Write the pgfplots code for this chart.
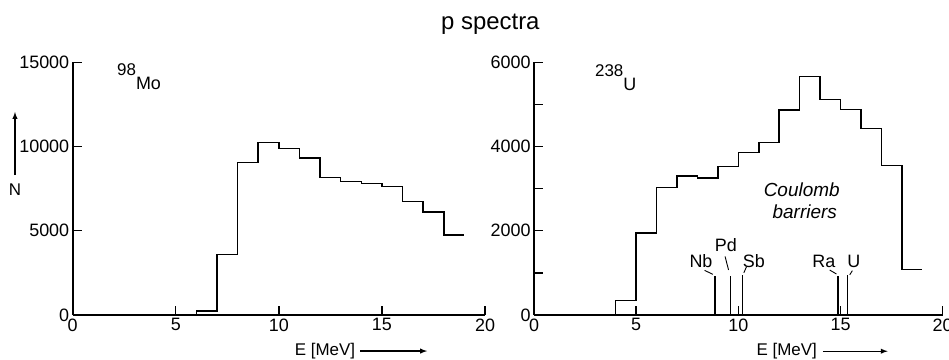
\documentclass[border=0pt]{standalone}
\usepackage{pgfplots}
\pgfplotsset{compat=1.18}
\usepackage{fontspec}
\setmainfont{Liberation Sans}
\begin{document}
\begin{tikzpicture}
\path[use as bounding box] (0,0) rectangle (949bp,360bp);
\pgfplotsset{
 myax/.style={
  scale only axis, width=412.3bp, height=252.7bp,
  axis x line*=bottom, axis y line*=left,
  axis line style={line width=1.6bp,-},
  tick align=inside, major tick length=9bp, minor tick length=9bp,
  every tick/.style={line width=1.4bp, black},
  xmin=0, xmax=20,
  xtick={0,5,10,15,20},
  tick label style={font=\fontsize{18}{20}\selectfont},
  /pgf/number format/assume math mode=true,
  /pgf/number format/1000 sep={},
  scaled y ticks=false,
  clip=false,
 }
}
% left panel
\begin{axis}[myax, at={(72.7bp,45bp)}, anchor=south west,
  ymin=0, ymax=15000, ytick={0,5000,10000,15000}]
\addplot[const plot, line width=1.5bp, black] coordinates {
 (6,0) (6,240) (7,3600) (8,9060) (9,10230) (10,9875) (11,9320) (12,8150)
 (13,7915) (14,7800) (15,7640) (16,6730) (17,6115) (18,4750) (19,4750)};
\node[anchor=base west, inner sep=0pt, font=\fontsize{18}{20}\selectfont]
  at (axis cs:2.15,13356) {\raisebox{14bp}{\fontsize{17}{18}\selectfont 98}Mo};
\node[font=\fontsize{24}{28}\selectfont, anchor=base] at (axis cs:20.26,16930) {p spectra};
\draw[line width=1.4bp, -latex] (axis cs:-2.8,8310) -- (axis cs:-2.8,12050);
\node[font=\fontsize{17}{20}\selectfont] at (axis cs:-2.8,7420) {N};
\node[font=\fontsize{17}{20}\selectfont] at (axis cs:12.24,-2140) {E [MeV]};
\draw[line width=1.4bp, -latex] (axis cs:13.94,-2140) -- (axis cs:17.19,-2140);
\end{axis}
% right panel
\begin{axis}[myax, at={(534bp,45bp)}, anchor=south west, width=408.7bp,
  ymin=0, ymax=6000, ytick={0,2000,4000,6000}, minor ytick={1000,3000,5000}]
\addplot[const plot, line width=1.5bp, black] coordinates {
 (4,0) (4,340) (5,1950) (6,3030) (7,3300) (8,3250) (9,3520) (10,3855)
 (11,4090) (12,4870) (13,5660) (14,5115) (15,4885) (16,4425) (17,3545)
 (18,1085) (19,1085)};
\addplot[ycomb, line width=1.4bp, black] coordinates {
 (8.86,930) (9.61,930) (10.21,950) (14.88,930) (15.35,950)};
\addplot[line width=0.9bp, black] coordinates {(8.35,1060) (8.75,965)};
\addplot[line width=0.9bp, black] coordinates {(9.35,1390) (9.52,1070)};
\addplot[line width=0.9bp, black] coordinates {(10.40,1147) (10.27,1004)};
\addplot[line width=0.9bp, black] coordinates {(14.47,1068) (14.80,973)};
\addplot[line width=0.9bp, black] coordinates {(15.58,1052) (15.45,955)};
\node[font=\fontsize{18}{20}\selectfont] at (axis cs:8.17,1282) {Nb};
\node[font=\fontsize{18}{20}\selectfont] at (axis cs:9.39,1662) {Pd};
\node[font=\fontsize{18}{20}\selectfont] at (axis cs:10.76,1282) {Sb};
\node[font=\fontsize{18}{20}\selectfont] at (axis cs:14.18,1282) {Ra};
\node[font=\fontsize{18}{20}\selectfont] at (axis cs:15.65,1282) {U};
\node[font=\fontsize{19}{22}\selectfont\itshape] at (axis cs:13.1,2968) {Coulomb};
\node[font=\fontsize{19}{22}\selectfont\itshape] at (axis cs:13.25,2445) {barriers};
\node[anchor=base west, inner sep=0pt, font=\fontsize{18}{20}\selectfont]
  at (axis cs:2.98,5342) {\raisebox{14bp}{\fontsize{17}{18}\selectfont 238}U};
\node[font=\fontsize{17}{20}\selectfont] at (axis cs:12.37,-860) {E [MeV]};
\draw[line width=1.4bp, -latex] (axis cs:14.13,-860) -- (axis cs:17.31,-860);
\end{axis}
\end{tikzpicture}
\end{document}
